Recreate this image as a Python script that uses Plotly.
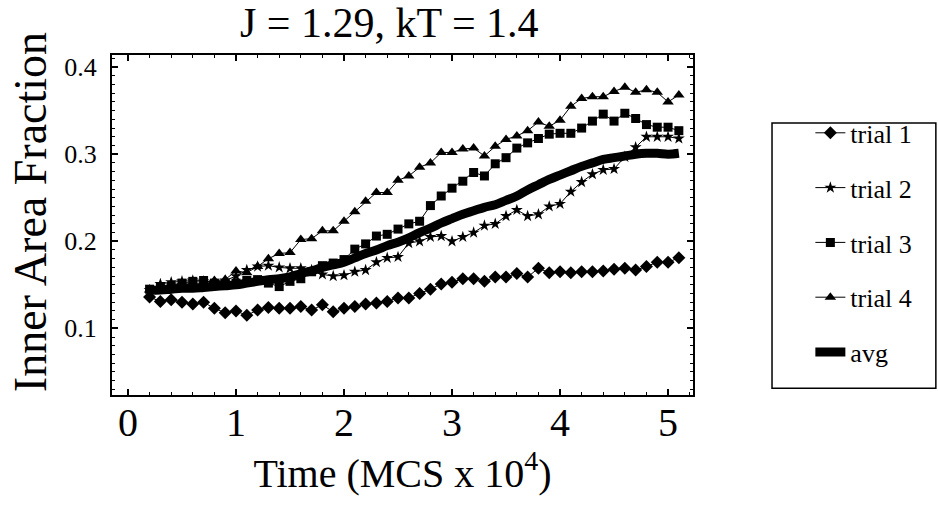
import plotly.graph_objects as go

# Time in units of 10^4 Monte Carlo steps
time = [round(0.2 + 0.1 * i, 1) for i in range(50)]

trial1 = [0.136, 0.131, 0.133, 0.130, 0.128, 0.130, 0.123, 0.118, 0.120, 0.115,
          0.121, 0.124, 0.123, 0.123, 0.125, 0.121, 0.127, 0.119, 0.123, 0.125,
          0.128, 0.129, 0.131, 0.135, 0.135, 0.140, 0.145, 0.151, 0.153, 0.157,
          0.157, 0.154, 0.159, 0.159, 0.163, 0.159, 0.169, 0.164, 0.165, 0.164,
          0.165, 0.165, 0.166, 0.168, 0.169, 0.167, 0.171, 0.176, 0.176, 0.181]

trial2 = [0.144, 0.151, 0.153, 0.154, 0.155, 0.154, 0.153, 0.155, 0.160, 0.167,
          0.171, 0.172, 0.170, 0.169, 0.169, 0.167, 0.162, 0.160, 0.161, 0.165,
          0.167, 0.176, 0.181, 0.182, 0.198, 0.200, 0.205, 0.206, 0.200, 0.205,
          0.210, 0.218, 0.220, 0.229, 0.236, 0.229, 0.231, 0.240, 0.243, 0.257,
          0.268, 0.277, 0.282, 0.283, 0.297, 0.308, 0.320, 0.320, 0.320, 0.318]

trial3 = [0.145, 0.147, 0.148, 0.152, 0.154, 0.155, 0.152, 0.150, 0.152, 0.155,
          0.156, 0.152, 0.148, 0.154, 0.157, 0.165, 0.172, 0.175, 0.179, 0.191,
          0.197, 0.206, 0.208, 0.214, 0.220, 0.223, 0.241, 0.252, 0.261, 0.269,
          0.279, 0.275, 0.289, 0.296, 0.307, 0.313, 0.318, 0.323, 0.324, 0.324,
          0.330, 0.338, 0.346, 0.338, 0.347, 0.341, 0.334, 0.331, 0.331, 0.327]

trial4 = [0.144, 0.149, 0.150, 0.152, 0.152, 0.152, 0.155, 0.156, 0.166, 0.164,
          0.171, 0.180, 0.186, 0.187, 0.202, 0.203, 0.212, 0.212, 0.223, 0.234,
          0.246, 0.256, 0.256, 0.270, 0.275, 0.285, 0.290, 0.302, 0.302, 0.306,
          0.307, 0.298, 0.309, 0.317, 0.321, 0.327, 0.337, 0.332, 0.339, 0.355,
          0.364, 0.366, 0.366, 0.372, 0.377, 0.371, 0.374, 0.371, 0.360, 0.368]

average = [0.144, 0.144, 0.145, 0.146, 0.146, 0.147, 0.148, 0.149, 0.150, 0.152,
           0.154, 0.156, 0.157, 0.159, 0.163, 0.166, 0.170, 0.173, 0.176, 0.181,
           0.186, 0.190, 0.195, 0.199, 0.204, 0.210, 0.215, 0.221, 0.226, 0.231,
           0.235, 0.239, 0.242, 0.247, 0.252, 0.259, 0.265, 0.271, 0.276, 0.281,
           0.286, 0.290, 0.294, 0.296, 0.298, 0.300, 0.301, 0.301, 0.300, 0.301]

x_ticks = [0, 1, 2, 3, 4, 5]
y_ticks = [0.1, 0.2, 0.3, 0.4]

SERIF = "Liberation Serif, Times New Roman, serif"
INK = "black"

fig = go.Figure()

series = [
    ("trial 1", trial1, "diamond", 10),
    ("trial 2", trial2, "star", 9),
    ("trial 3", trial3, "square", 9),
    ("trial 4", trial4, "triangle-up", 10),
]
for name, vals, sym, size in series:
    fig.add_trace(go.Scatter(
        x=time, y=vals, name=name, legendgroup=name,
        mode="lines+markers",
        line=dict(color=INK, width=1),
        marker=dict(symbol=sym, size=size, color=INK),
    ))

fig.add_trace(go.Scatter(
    x=time, y=average, name="avg", legendgroup="avg",
    mode="lines",
    line=dict(color=INK, width=9, shape="spline"),
))

# Legend frame
fig.add_shape(type="rect", xref="paper", yref="paper",
              x0=1.136, x1=1.418, y0=0.02, y1=0.80,
              line=dict(color=INK, width=1.5), fillcolor="rgba(0,0,0,0)")

# Vertical axis label
fig.add_annotation(text="Inner Area Fraction", textangle=-90,
                   xref="paper", yref="paper", x=-0.141, y=0.538,
                   xanchor="center", yanchor="middle", showarrow=False,
                   font=dict(size=46, family=SERIF, color=INK))

axis_common = dict(
    showline=True, linecolor=INK, linewidth=2, mirror="allticks",
    showgrid=False, zeroline=False,
    ticks="inside", tickcolor=INK, tickwidth=1.5,
)

fig.update_layout(
    width=938, height=508,
    margin=dict(l=112, r=245, t=55, b=113),
    paper_bgcolor="white", plot_bgcolor="white",
    font=dict(family=SERIF, color=INK),
    title=dict(text="J = 1.29, kT = 1.4", x=0.415, xanchor="center",
               y=0.957, yanchor="middle", yref="container",
               font=dict(size=42, family=SERIF, color=INK)),
    showlegend=True,
    legend=dict(x=1.202, y=0.84, xanchor="left", yanchor="top",
                traceorder="grouped", tracegroupgap=18,
                font=dict(size=26, family=SERIF, color=INK),
                bgcolor="rgba(0,0,0,0)", borderwidth=0),
    xaxis=dict(
        **axis_common,
        range=[-0.148, 5.231], tickvals=x_ticks,
        ticktext=[str(v) for v in x_ticks],
        ticklen=6, ticklabelstandoff=-9,
        tickfont=dict(size=40, family=SERIF, color=INK),
        minor=dict(dtick=0.2, ticks="inside", ticklen=3, tickcolor=INK, tickwidth=1),
        title=dict(text="Time (MCS x 10<sup>4</sup>)", standoff=8,
                   font=dict(size=40, family=SERIF, color=INK)),
    ),
    yaxis=dict(
        **axis_common,
        range=[0.0235, 0.4139], tickvals=y_ticks,
        ticktext=[f"{v:.1f}" for v in y_ticks],
        ticklen=6, ticklabelstandoff=8,
        tickfont=dict(size=26, family=SERIF, color=INK),
        minor=dict(dtick=0.01, tick0=0, ticks="inside", ticklen=3, tickcolor=INK, tickwidth=1),
    ),
)

fig.write_html("out.html")
